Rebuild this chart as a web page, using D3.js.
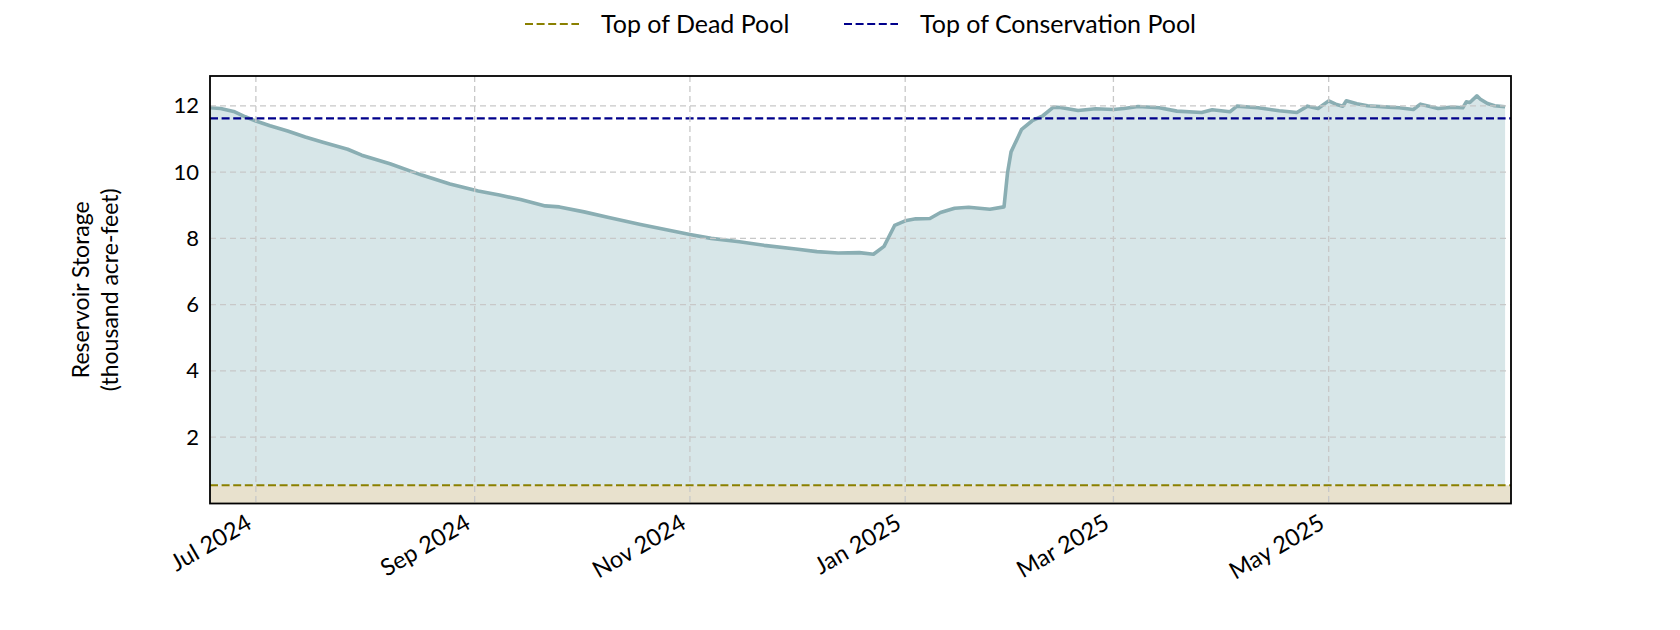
<!DOCTYPE html>
<html>
<head>
<meta charset="utf-8">
<script src="https://cdn.jsdelivr.net/npm/d3@7"></script>
<style>
  html, body { margin: 0; padding: 0; background: #fff; }
  svg text { font-family: Lato, "Open Sans", sans-serif; fill: #000; }
</style>
</head>
<body>
<svg id="chart" width="1680" height="630"></svg>
<script>
// ---- data ----
const dates = [
  "2024-06-18","2024-06-21","2024-06-25","2024-06-28","2024-07-01","2024-07-05","2024-07-10","2024-07-15",
  "2024-07-20","2024-07-24","2024-07-27","2024-07-31","2024-08-08","2024-08-17","2024-08-25","2024-09-02",
  "2024-09-08","2024-09-14","2024-09-21","2024-09-25","2024-10-02","2024-10-09","2024-10-18","2024-10-25",
  "2024-11-01","2024-11-07","2024-11-15","2024-11-22","2024-12-01","2024-12-07","2024-12-13","2024-12-19",
  "2024-12-23","2024-12-26","2024-12-29","2025-01-01","2025-01-04","2025-01-08","2025-01-11","2025-01-15",
  "2025-01-19","2025-01-25","2025-01-29","2025-01-30","2025-01-31","2025-02-03","2025-02-06","2025-02-09",
  "2025-02-12","2025-02-14","2025-02-19","2025-02-24","2025-03-01","2025-03-04","2025-03-08","2025-03-14",
  "2025-03-19","2025-03-26","2025-03-29","2025-04-03","2025-04-05","2025-04-11","2025-04-17","2025-04-22",
  "2025-04-25","2025-04-28","2025-05-01","2025-05-03","2025-05-05","2025-05-06","2025-05-09","2025-05-12",
  "2025-05-18","2025-05-21","2025-05-25","2025-05-27","2025-05-30","2025-06-01","2025-06-05","2025-06-08",
  "2025-06-09","2025-06-10","2025-06-12","2025-06-13","2025-06-15","2025-06-17","2025-06-20"
];
const storage = [
  11.94,11.92,11.82,11.67,11.54,11.40,11.24,11.06,
  10.90,10.78,10.69,10.51,10.25,9.91,9.64,9.43,
  9.31,9.17,8.98,8.95,8.80,8.63,8.42,8.27,
  8.12,8.00,7.90,7.79,7.68,7.60,7.56,7.57,
  7.52,7.76,8.39,8.53,8.59,8.60,8.78,8.91,
  8.94,8.88,8.95,9.98,10.61,11.29,11.55,11.70,
  11.96,11.95,11.86,11.91,11.89,11.92,11.98,11.94,
  11.84,11.80,11.88,11.82,11.99,11.94,11.85,11.80,
  11.99,11.92,12.15,12.05,11.99,12.15,12.06,12.00,
  11.96,11.94,11.89,12.05,11.97,11.92,11.96,11.94,
  12.12,12.10,12.30,12.20,12.07,12.00,11.97
];
const deadPool = 0.55;
const conservationPool = 11.62;
const xTickDates = ["2024-07-01","2024-09-01","2024-11-01","2025-01-01","2025-03-01","2025-05-01"];
const xTickLabels = ["Jul 2024","Sep 2024","Nov 2024","Jan 2025","Mar 2025","May 2025"];
const yTicks = [2,4,6,8,10,12];
const legendLabels = ["Top of Dead Pool","Top of Conservation Pool"];
const xDomain = ["2024-06-18T00:00","2025-06-21T16:00"];
const yDomain = [0, 12.9];

// ---- layout ----
const parse = d3.isoParse;
const margin = {left: 210, right: 1680 - 1511, top: 76, bottom: 630 - 503.5};
const W = 1680, H = 630;
const svg = d3.select("#chart");

const x = d3.scaleTime().domain(xDomain.map(s => new Date(s))).range([margin.left, W - margin.right]);
const y = d3.scaleLinear().domain(yDomain).range([H - margin.bottom, margin.top]);

const data = dates.map((d, i) => ({date: parse(d), v: storage[i]}));

const clipId = "plotclip";
svg.append("defs").append("clipPath").attr("id", clipId)
  .append("rect").attr("x", x.range()[0]).attr("y", y.range()[1])
  .attr("width", x.range()[1] - x.range()[0]).attr("height", y.range()[0] - y.range()[1]);

const plot = svg.append("g").attr("clip-path", `url(#${clipId})`);

// dead pool area (beige)
plot.append("path")
  .attr("fill", "#e8e1cd")
  .attr("d", d3.area().x(d => x(d.date)).y0(y(0)).y1(y(deadPool))(
    [{date: x.domain()[0]}, {date: x.domain()[1]}]));

// storage area (light teal)
plot.append("path")
  .datum(data)
  .attr("fill", "#d7e6e8")
  .attr("d", d3.area().x(d => x(d.date)).y0(y(deadPool)).y1(d => y(d.v)));

// gridlines
const grid = svg.append("g");
grid.selectAll("line.gx").data(xTickDates).join("line")
  .attr("x1", d => x(parse(d))).attr("x2", d => x(parse(d)))
  .attr("y1", y.range()[1]).attr("y2", y.range()[0])
  .attr("stroke", "#c8c8c8").attr("stroke-width", 1.3).attr("stroke-dasharray", "6,4");
grid.selectAll("line.gy").data(yTicks).join("line")
  .attr("x1", x.range()[0]).attr("x2", x.range()[1])
  .attr("y1", d => y(d)).attr("y2", d => y(d))
  .attr("stroke", "#c8c8c8").attr("stroke-width", 1.3).attr("stroke-dasharray", "6,4");

// storage line
plot.append("path")
  .datum(data)
  .attr("fill", "none")
  .attr("stroke", "#8aaeb3")
  .attr("stroke-width", 3.6)
  .attr("stroke-linejoin", "round")
  .attr("d", d3.line().x(d => x(d.date)).y(d => y(d.v)));

// reference lines
const refColors = ["#8a8000", "#00008b"];
const refVals = [deadPool, conservationPool];
plot.selectAll("line.ref").data(refVals).join("line")
  .attr("x1", x.range()[0]).attr("x2", x.range()[1])
  .attr("y1", d => y(d)).attr("y2", d => y(d))
  .attr("stroke", (d, i) => refColors[i]).attr("stroke-width", 2.2)
  .attr("stroke-dasharray", "8,3.6");

// frame
svg.append("rect")
  .attr("x", x.range()[0]).attr("y", y.range()[1])
  .attr("width", x.range()[1] - x.range()[0]).attr("height", y.range()[0] - y.range()[1])
  .attr("fill", "none").attr("stroke", "#000").attr("stroke-width", 1.8);

// y axis
const yAxis = d3.axisLeft(y).tickValues(yTicks).tickSize(0).tickPadding(11).tickFormat(d3.format("d"));
const gy = svg.append("g").attr("transform", `translate(${x.range()[0]},0)`).call(yAxis);
gy.select(".domain").remove();
gy.selectAll("text").style("font-size", "22px").style("font-family", "Lato, sans-serif").attr("fill", "#000");

// x axis
const xAxis = d3.axisBottom(x).tickValues(xTickDates.map(parse)).tickSize(0)
  .tickFormat((d, i) => xTickLabels[i]);
const gx = svg.append("g").attr("transform", `translate(0,${y.range()[0]})`).call(xAxis);
gx.select(".domain").remove();
gx.selectAll("text")
  .style("font-size", "23.5px").style("font-family", "Lato, sans-serif").attr("fill", "#000")
  .attr("text-anchor", "end")
  .attr("dy", 0).attr("y", 0)
  .attr("transform", "translate(-3,24) rotate(-30)");

// y label
const yl = svg.append("text")
  .attr("transform", `translate(92,${(y.range()[0] + y.range()[1]) / 2}) rotate(-90)`)
  .attr("text-anchor", "middle").style("font-size", "23px");
yl.append("tspan").attr("x", 0).attr("dy", "-0.12em").text("Reservoir Storage");
yl.append("tspan").attr("x", 0).attr("dy", "1.25em").text("(thousand acre-feet)");

// legend
const legX = [525, 844];
const lg = svg.append("g");
legendLabels.forEach((lab, i) => {
  lg.append("line").attr("x1", legX[i]).attr("x2", legX[i] + 54).attr("y1", 24).attr("y2", 24)
    .attr("stroke", refColors[i]).attr("stroke-width", 2.2).attr("stroke-dasharray", "8,3.6");
  lg.append("text").attr("x", legX[i] + 76).attr("y", 24).attr("dy", "0.35em")
    .style("font-size", "25px").text(lab);
});
</script>
</body>
</html>
